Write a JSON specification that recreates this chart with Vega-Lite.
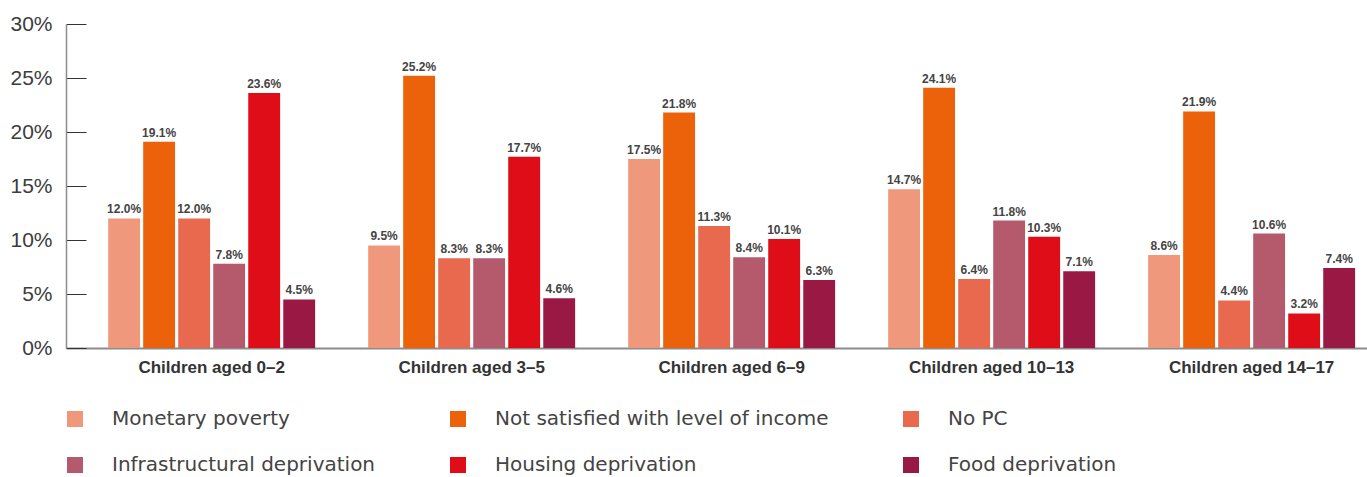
{
  "$schema": "https://vega.github.io/schema/vega-lite/v6.json",
  "autosize": "none",
  "width": 1301,
  "height": 324,
  "padding": {"left": 66, "top": 24, "right": 0, "bottom": 129},
  "background": "white",
  "config": {
    "view": {"stroke": null},
    "font": "Liberation Sans"
  },
  "data": {
    "values": [
      {"group": "Children aged 0–2", "indicator": "Monetary poverty", "value": 0.120},
      {"group": "Children aged 0–2", "indicator": "Not satisfied with level of income", "value": 0.191},
      {"group": "Children aged 0–2", "indicator": "No PC", "value": 0.120},
      {"group": "Children aged 0–2", "indicator": "Infrastructural deprivation", "value": 0.078},
      {"group": "Children aged 0–2", "indicator": "Housing deprivation", "value": 0.236},
      {"group": "Children aged 0–2", "indicator": "Food deprivation", "value": 0.045},
      {"group": "Children aged 3–5", "indicator": "Monetary poverty", "value": 0.095},
      {"group": "Children aged 3–5", "indicator": "Not satisfied with level of income", "value": 0.252},
      {"group": "Children aged 3–5", "indicator": "No PC", "value": 0.083},
      {"group": "Children aged 3–5", "indicator": "Infrastructural deprivation", "value": 0.083},
      {"group": "Children aged 3–5", "indicator": "Housing deprivation", "value": 0.177},
      {"group": "Children aged 3–5", "indicator": "Food deprivation", "value": 0.046},
      {"group": "Children aged 6–9", "indicator": "Monetary poverty", "value": 0.175},
      {"group": "Children aged 6–9", "indicator": "Not satisfied with level of income", "value": 0.218},
      {"group": "Children aged 6–9", "indicator": "No PC", "value": 0.113},
      {"group": "Children aged 6–9", "indicator": "Infrastructural deprivation", "value": 0.084},
      {"group": "Children aged 6–9", "indicator": "Housing deprivation", "value": 0.101},
      {"group": "Children aged 6–9", "indicator": "Food deprivation", "value": 0.063},
      {"group": "Children aged 10–13", "indicator": "Monetary poverty", "value": 0.147},
      {"group": "Children aged 10–13", "indicator": "Not satisfied with level of income", "value": 0.241},
      {"group": "Children aged 10–13", "indicator": "No PC", "value": 0.064},
      {"group": "Children aged 10–13", "indicator": "Infrastructural deprivation", "value": 0.118},
      {"group": "Children aged 10–13", "indicator": "Housing deprivation", "value": 0.103},
      {"group": "Children aged 10–13", "indicator": "Food deprivation", "value": 0.071},
      {"group": "Children aged 14–17", "indicator": "Monetary poverty", "value": 0.086},
      {"group": "Children aged 14–17", "indicator": "Not satisfied with level of income", "value": 0.219},
      {"group": "Children aged 14–17", "indicator": "No PC", "value": 0.044},
      {"group": "Children aged 14–17", "indicator": "Infrastructural deprivation", "value": 0.106},
      {"group": "Children aged 14–17", "indicator": "Housing deprivation", "value": 0.032},
      {"group": "Children aged 14–17", "indicator": "Food deprivation", "value": 0.074}
    ]
  },
  "encoding": {
    "x": {
      "field": "group",
      "type": "nominal",
      "sort": null,
      "scale": {"paddingInner": 0.204, "paddingOuter": 0.104, "align": 0.78},
      "axis": {
        "title": null,
        "labelAngle": 0,
        "ticks": false,
        "labelFont": "Liberation Sans",
        "labelFontSize": 17,
        "labelFontWeight": "bold",
        "labelColor": "#333333",
        "labelPadding": 11,
        "domainColor": "#8c8c8c",
        "domainWidth": 2
      }
    },
    "xOffset": {
      "field": "indicator",
      "type": "nominal",
      "sort": null,
      "scale": {"paddingInner": 0.09, "paddingOuter": 0}
    },
    "y": {
      "field": "value",
      "type": "quantitative",
      "scale": {"domain": [0, 0.3], "nice": false},
      "axis": {
        "title": null,
        "format": ".0%",
        "values": [0, 0.05, 0.1, 0.15, 0.2, 0.25, 0.3],
        "grid": false,
        "tickSize": -20,
        "tickColor": "#333333",
        "tickWidth": 1,
        "domainColor": "#8c8c8c",
        "domainWidth": 1.5,
        "labelFont": "Liberation Sans",
        "labelFontSize": 21,
        "labelColor": "#3c3c3c",
        "labelPadding": 34
      }
    }
  },
  "layer": [
    {
      "mark": {"type": "bar"},
      "encoding": {
        "color": {
          "field": "indicator",
          "type": "nominal",
          "sort": null,
          "scale": {
            "domain": ["Monetary poverty", "Not satisfied with level of income", "No PC", "Infrastructural deprivation", "Housing deprivation", "Food deprivation"],
            "range": ["#EF987B", "#EB620B", "#E8694E", "#B45A6C", "#DE0D17", "#9A1944"]
          },
          "legend": {
            "title": null,
            "orient": "none",
            "legendX": -1,
            "legendY": 385,
            "direction": "horizontal",
            "columns": 3,
            "columnPadding": 72,
            "rowPadding": 26,
            "symbolType": "square",
            "symbolSize": 256,
            "symbolStrokeWidth": 0,
            "labelFont": "DejaVu Sans",
            "labelFontSize": 20,
            "labelColor": "#444444",
            "labelOffset": 27,
            "labelLimit": 500,
            "padding": 0
          }
        }
      }
    },
    {
      "mark": {"type": "text", "baseline": "alphabetic", "dy": -5, "font": "Liberation Sans", "fontSize": 12, "fontWeight": "bold", "color": "#444444"},
      "encoding": {
        "text": {"field": "value", "type": "quantitative", "format": ".1%"}
      }
    }
  ]
}
